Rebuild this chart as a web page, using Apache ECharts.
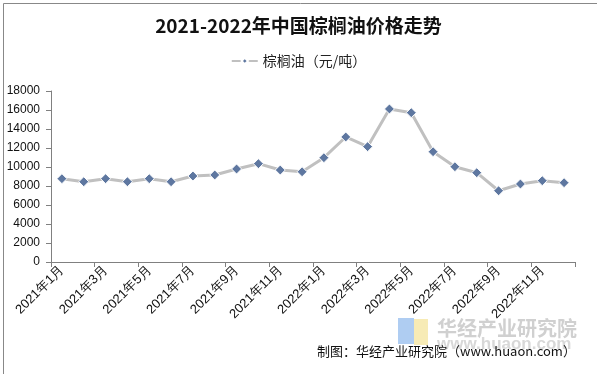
<!DOCTYPE html>
<html><head><meta charset="utf-8">
<script src="https://cdn.jsdelivr.net/npm/echarts@6/dist/echarts.min.js"></script>
<style>html,body{margin:0;padding:0;background:#fff}#c{width:597px;height:374px}</style>
</head><body><div id="c"></div>
<script>
var categories = ['2021年1月','2021年2月','2021年3月','2021年4月','2021年5月','2021年6月','2021年7月','2021年8月','2021年9月','2021年10月','2021年11月','2021年12月',
'2022年1月','2022年2月','2022年3月','2022年4月','2022年5月','2022年6月','2022年7月','2022年8月','2022年9月','2022年10月','2022年11月','2022年12月'];
var palmOil = [8770,8450,8770,8450,8770,8450,9050,9160,9790,10350,9680,9500,
10980,13160,12140,16110,15720,11610,10030,9400,7500,8210,8560,8350];
var yTicks = [0,2000,4000,6000,8000,10000,12000,14000,16000,18000];

var chart = echarts.init(document.getElementById('c'), null, {renderer:'canvas'});
chart.setOption({
  animation:false,
  backgroundColor:'#fff',
  title:{text:'2021-2022年中国棕榈油价格走势',left:'center',top:11,
    textStyle:{fontFamily:'Noto Sans CJK SC',fontWeight:'bold',fontSize:19,color:'#111'}},
  legend:{top:49,left:'center',itemWidth:26,itemHeight:8,itemGap:3,
    textStyle:{fontFamily:'Noto Sans CJK SC',fontSize:14,color:'#222'},
    data:['棕榈油（元/吨）']},
  grid:{left:51,right:22,top:91,bottom:112},
  xAxis:{type:'category',data:categories,boundaryGap:true,
    axisLine:{lineStyle:{color:'#808080',width:1}},
    axisTick:{show:true,interval:1,length:5,lineStyle:{color:'#808080'}},
    axisLabel:{interval:1,rotate:45,margin:6,fontFamily:'Liberation Sans',fontSize:13,color:'#111'}},
  yAxis:{type:'value',min:yTicks[0],max:yTicks[yTicks.length-1],interval:2000,
    axisLine:{show:true,lineStyle:{color:'#808080',width:1}},
    axisTick:{show:true,length:5,lineStyle:{color:'#808080'}},
    splitLine:{show:false},
    axisLabel:{margin:11,fontFamily:'Liberation Sans',fontSize:12,color:'#111',formatter:function(v){return String(v);}}},
  series:[{name:'棕榈油（元/吨）',type:'line',data:palmOil,
    symbol:'diamond',symbolSize:10,
    lineStyle:{color:'#C0C0C0',width:3},
    itemStyle:{color:'#5E77A0',borderColor:'#fff',borderWidth:1}}],
  graphic:[
    {type:'rect',left:1,top:1,shape:{width:594,height:371},style:{fill:null,stroke:'#888',lineWidth:1},z:-1},
    {type:'rect',left:398,top:318,shape:{width:16,height:26},style:{fill:'#AFCDF2'},z:1},
    {type:'rect',left:414,top:319,shape:{width:14,height:26},style:{fill:'#F7EBB5'},z:1},
    {type:'text',left:437,top:318,style:{text:'华经产业研究院',font:'bold 20px "Noto Sans CJK SC"',fill:'#D0D0D0'},z:1},
    {type:'text',left:437,top:336,style:{text:'www.huaon.com',font:'bold 17px "Liberation Sans"',fill:'#D8D8D8'},z:1},
    {type:'text',left:317,top:345,style:{text:'制图：华经产业研究院（www.huaon.com）',font:'13px "Noto Sans CJK SC"',fill:'#111'},z:2}
  ]
});
</script></body></html>
